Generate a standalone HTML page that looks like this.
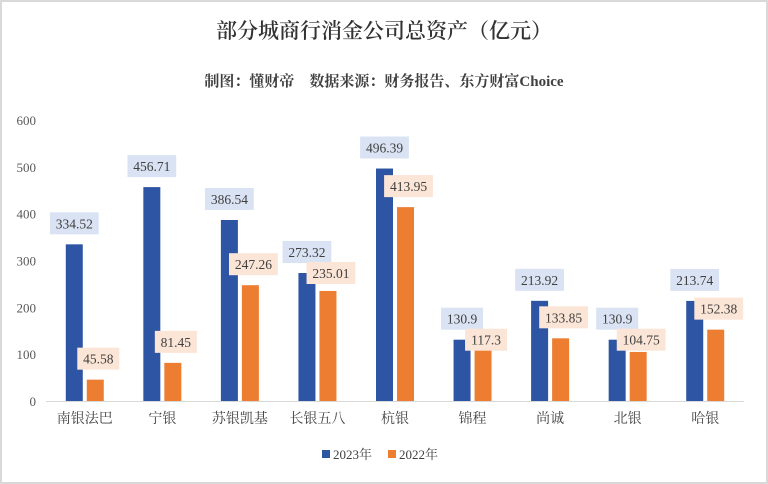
<!DOCTYPE html>
<html><head><meta charset="utf-8"><style>
body{margin:0;background:#fff}
svg{display:block}
text{font-family:"Liberation Serif","Noto Serif CJK SC",serif}
</style></head><body>
<svg id="chart" width="768" height="484">
<rect x="1" y="1" width="766" height="482" fill="#fff" stroke="#d9d9d9" stroke-width="2"/>
<text x="384" y="38" text-anchor="middle" font-size="21" font-weight="600" fill="#333">部分城商行消金公司总资产（亿元）</text>
<text x="384" y="86" text-anchor="middle" font-size="15" font-weight="bold" fill="#404040">制图：懂财帝　数据来源：财务报告、东方财富Choice</text>
<g id="axis"></g><g id="bars"></g><g id="labels"></g>
<g>
<rect x="322" y="450" width="8" height="8" fill="#2e54a4"/>
<text x="333" y="459" font-size="13" fill="#404040">2023年</text>
<rect x="388" y="450" width="8" height="8" fill="#ed7d31"/>
<text x="399" y="459" font-size="13" fill="#404040">2022年</text>
</g>
</svg>
<script>
const categories=["南银法巴","宁银","苏银凯基","长银五八","杭银","锦程","尚诚","北银","哈银"];
const values2023=[334.52,456.71,386.54,273.32,496.39,130.9,213.92,130.9,213.74];
const values2022=[45.58,81.45,247.26,235.01,413.95,117.3,133.85,104.75,152.38];
const labels2023=["334.52","456.71","386.54","273.32","496.39","130.9","213.92","130.9","213.74"];
const labels2022=["45.58","81.45","247.26","235.01","413.95","117.3","133.85","104.75","152.38"];
const yTicks=[0,100,200,300,400,500,600];
const NS="http://www.w3.org/2000/svg";
const left=46,right=744,y0=401,yTop=120,yMax=600;
const step=(right-left)/categories.length;
const y=v=>y0-(v/yMax)*(y0-yTop);
const xc=i=>left+step*(i+0.5);
function mk(t,a,p){const e=document.createElementNS(NS,t);for(const k in a)e.setAttribute(k,a[k]);p.appendChild(e);return e;}
const ax=document.getElementById('axis'),bg=document.getElementById('bars'),lg=document.getElementById('labels');
yTicks.forEach(t=>{
  const e=mk('text',{x:36,y:y(t)+5,'text-anchor':'end','font-size':13,fill:'#595959'},ax);
  e.textContent=t;
  
  
});
const base=mk('line',{x1:left,x2:right,y1:y0+0.5,y2:y0+0.5,stroke:'#d9d9d9'},ax);


const bw=17,gap=4;
function label(x,yy,txt,fill,name){
  const w=txt.length*6.8+8;
  const r=mk('rect',{x:x-w/2,y:yy-11,width:w,height:22,fill:fill},lg);
  
  
  const t=mk('text',{x:x,y:yy+5,'text-anchor':'middle','font-size':13.5,fill:'#404040'},lg);
  t.textContent=txt;
  
  
}
categories.forEach((c,i)=>{
  const cx=xc(i);
  const xb=cx-gap/2-bw, xo=cx+gap/2;
  const b=mk('rect',{x:xb,y:y(values2023[i]),width:bw,height:y0-y(values2023[i]),fill:'#2e54a4'},bg);
  
  
  const o=mk('rect',{x:xo,y:y(values2022[i]),width:bw,height:y0-y(values2022[i]),fill:'#ed7d31'},bg);
  
  
  const by=y(values2023[i])-21;
  let oy=y(values2022[i])-21;
  if(oy<by+21) oy=Math.min(by+21,y(values2022[i])-5);
  label(xb+bw/2,by,labels2023[i],'#dae3f3','value-label-2023-'+i);
  label(xo+bw/2+3,oy,labels2022[i],'#fbe5d6','value-label-2022-'+i);
  const t=mk('text',{x:cx,y:423,'text-anchor':'middle','font-size':14,fill:'#404040'},ax);
  t.textContent=c;
  
  
});
</script>
</body></html>
